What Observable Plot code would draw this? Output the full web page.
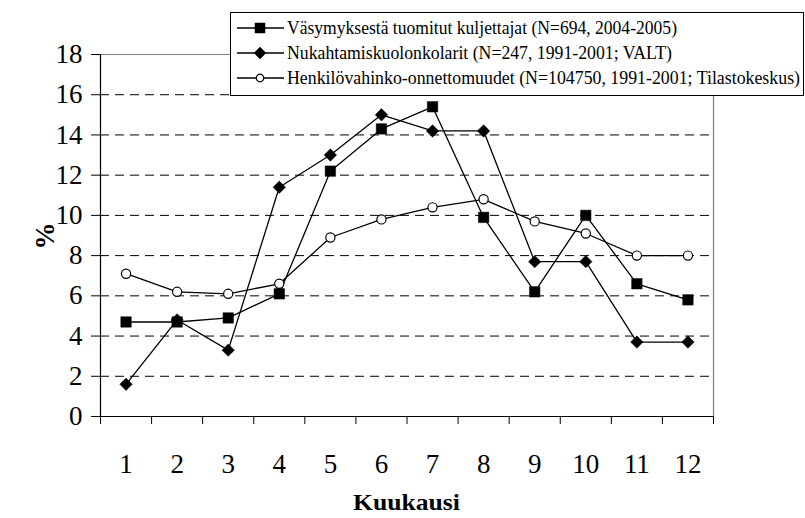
<!DOCTYPE html>
<html>
<head>
<meta charset="utf-8">
<script src="https://cdn.jsdelivr.net/npm/d3@7"></script>
<script src="https://cdn.jsdelivr.net/npm/@observablehq/plot@0.6"></script>
<style>
  html, body { margin: 0; padding: 0; background: white; }
  #chart { width: 805px; height: 518px; }
</style>
</head>
<body>
<div id="chart"></div>
<script>
const months = [1, 2, 3, 4, 5, 6, 7, 8, 9, 10, 11, 12];
const vasymys = [4.7, 4.7, 4.9, 6.1, 12.2, 14.3, 15.4, 9.9, 6.2, 10.0, 6.6, 5.8];
const nukahtamis = [1.6, 4.8, 3.3, 11.4, 13.0, 15.0, 14.2, 14.2, 7.7, 7.7, 3.7, 3.7];
const henkilo = [7.1, 6.2, 6.1, 6.6, 8.9, 9.8, 10.4, 10.8, 9.7, 9.1, 8.0, 8.0];
const seriesNames = [
  "Väsymyksestä tuomitut kuljettajat (N=694, 2004-2005)",
  "Nukahtamiskuolonkolarit (N=247, 1991-2001; VALT)",
  "Henkilövahinko-onnettomuudet (N=104750, 1991-2001; Tilastokeskus)"
];
const yTicks = [0, 2, 4, 6, 8, 10, 12, 14, 16, 18];
const gridTicks = [2, 4, 6, 8, 10, 12, 14, 16];
const xBoundaries = [0.5, 1.5, 2.5, 3.5, 4.5, 5.5, 6.5, 7.5, 8.5, 9.5, 10.5, 11.5, 12.5];
const xTitle = "Kuukausi";
const yTitle = "%";

const toRows = (vals, name) => months.map((m, i) => ({month: m, value: vals[i], series: name}));
const s1 = toRows(vasymys, seriesNames[0]);
const s2 = toRows(nukahtamis, seriesNames[1]);
const s3 = toRows(henkilo, seriesNames[2]);

const font = "'Liberation Serif', 'Times New Roman', serif";

const plot = Plot.plot({
  width: 805,
  height: 518,
  marginLeft: 100,
  marginRight: 92,
  marginTop: 54,
  marginBottom: 102,
  style: {fontFamily: font, fontSize: "27px", color: "black", background: "white", overflow: "visible"},
  x: {domain: [0.5, 12.5]},
  y: {domain: [0, 18]},
  marks: [
    Plot.gridY(gridTicks, {stroke: "black", strokeOpacity: 1, strokeDasharray: "9,6", strokeWidth: 1}),
    Plot.ruleY([18], {stroke: "#808080", strokeWidth: 1.2}),
    Plot.ruleX([12.5], {stroke: "#808080", strokeWidth: 1.2}),
    Plot.ruleX([0.5], {stroke: "black", strokeWidth: 1.2}),
    Plot.ruleY([0], {stroke: "black", strokeWidth: 1.2}),
    Plot.axisY(yTicks, {tickSize: 9, tickPadding: 9, label: null, fontSize: 27, stroke: "black"}),
    Plot.axisX(xBoundaries, {tickSize: 8, text: null, label: null, stroke: "black"}),
    Plot.axisX(months, {tickSize: 0, tickPadding: 37, label: null, fontSize: 27}),
    Plot.line(s1, {x: "month", y: "value", stroke: "black", strokeWidth: 1.3}),
    Plot.dot(s1, {x: "month", y: "value", symbol: "square", r: 5.9, fill: "black", stroke: "black", strokeWidth: 0.5}),
    Plot.line(s2, {x: "month", y: "value", stroke: "black", strokeWidth: 1.3}),
    Plot.dot(s2, {x: "month", y: "value", symbol: "diamond2", r: 5.6, fill: "black", stroke: "black", strokeWidth: 0.5}),
    Plot.line(s3, {x: "month", y: "value", stroke: "black", strokeWidth: 1.3}),
    Plot.dot(s3, {x: "month", y: "value", symbol: "circle", r: 4.6, fill: "white", stroke: "black", strokeWidth: 1.2})
  ]
});

document.getElementById("chart").appendChild(plot);

const svg = d3.select(plot);

// Axis titles
svg.append("text")
  .attr("x", 353).attr("y", 510)
  .attr("textLength", 107).attr("lengthAdjust", "spacingAndGlyphs")
  .style("text-anchor", "start")
  .style("font-family", font).style("font-weight", "bold").style("font-size", "23px")
  .text(xTitle);

svg.append("text")
  .attr("transform", "translate(54,236) rotate(-90)")
  .style("text-anchor", "middle")
  .style("font-family", font).style("font-weight", "bold").style("font-size", "27px")
  .text(yTitle);

// Legend
const lg = svg.append("g");
lg.append("rect")
  .attr("x", 230.5).attr("y", 12.5).attr("width", 573).attr("height", 83)
  .attr("fill", "white").attr("stroke", "black").attr("stroke-width", 1);
const rowY = [28, 53, 78];
const rowLen = [390, 385, 513];
seriesNames.forEach((name, i) => {
  const y = rowY[i];
  lg.append("line").attr("x1", 237).attr("x2", 284).attr("y1", y).attr("y2", y)
    .attr("stroke", "black").attr("stroke-width", 1.3);
  let sym;
  if (i === 0) sym = d3.symbol(d3.symbolSquare, 100);
  else if (i === 1) sym = d3.symbol(d3.symbolDiamond2, 90);
  else sym = d3.symbol(d3.symbolCircle, 45);
  lg.append("path").attr("d", sym()).attr("transform", `translate(260,${y})`)
    .attr("fill", i === 2 ? "white" : "black").attr("stroke", "black").attr("stroke-width", i === 2 ? 1.2 : 0.5);
  lg.append("text").attr("x", 287).attr("y", y).attr("dy", "0.35em")
    .attr("textLength", rowLen[i]).attr("lengthAdjust", "spacingAndGlyphs")
    .style("text-anchor", "start")
    .style("font-family", font).style("font-size", "18px")
    .text(name);
});
</script>
</body>
</html>
